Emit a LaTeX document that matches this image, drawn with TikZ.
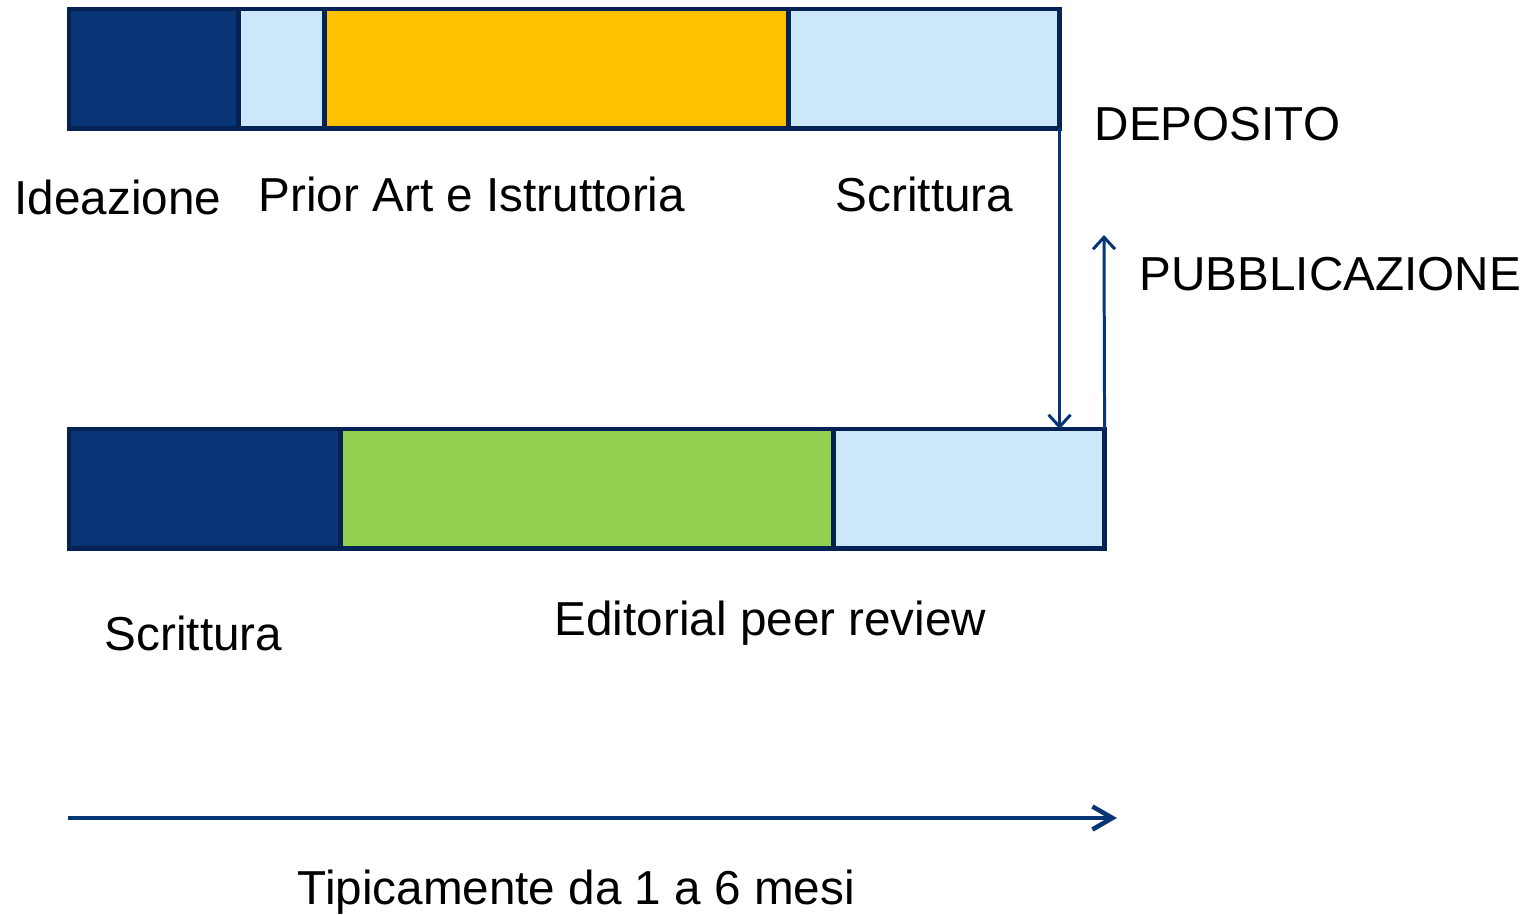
\documentclass[tikz,border=0pt]{standalone}
\usepackage{fontspec}
\setmainfont{Liberation Sans}
\usetikzlibrary{arrows.meta}

\definecolor{navy}{RGB}{8,53,117}
\definecolor{navyline}{RGB}{4,34,84}
\definecolor{skyblue}{RGB}{204,231,248}
\definecolor{gold}{RGB}{255,192,0}
\definecolor{leaf}{RGB}{146,208,80}

\begin{document}
\begin{tikzpicture}[x=0.01cm, y=-0.01cm,
  seg/.style={draw=navyline, line width=1.4pt, anchor=north west, outer sep=0pt, inner sep=0pt, minimum height=1.19cm},
  lbl/.style={anchor=base west, inner sep=0pt, font=\fontsize{13.55}{16}\selectfont},
  thin/.style={draw=navy, line width=0.85pt, -{Straight Barb[length=0.12cm, width=0.22cm]}},
  timeline/.style={draw=navy, line width=1.3pt, -{Straight Barb[length=0.2cm, width=0.23cm]}}]

\useasboundingbox (0,0) rectangle (1535,915);

% brevetto
\node[seg, fill=navy, minimum width=1.69cm] (t1) at (69,9) {};
\node[seg, fill=skyblue, minimum width=0.86cm] (t2) at (t1.north east) {};
\node[seg, fill=gold, minimum width=4.64cm] (t3) at (t2.north east) {};
\node[seg, fill=skyblue, minimum width=2.71cm] (t4) at (t3.north east) {};

% articolo
\node[seg, fill=navy, minimum width=2.71cm] (b1) at (69,429) {};
\node[seg, fill=leaf, minimum width=4.93cm] (b2) at (b1.north east) {};
\node[seg, fill=skyblue, minimum width=2.71cm] (b3) at (b2.north east) {};

\node[lbl] (ideaz) at (14,215) {Ideazione};
\node[lbl] (prior) at (258,212) {Prior Art e Istruttoria};
\node[lbl] (scrA) at (835,212) {Scrittura};
\node[lbl] (depos) at (1094,140) {DEPOSITO};
\node[lbl] (pubbl) at (1139,290) {PUBBLICAZIONE};
\node[lbl] (scrB) at (104,650) {Scrittura};
\node[lbl] (editr) at (554,635) {Editorial peer review};
\node[lbl] (tipic) at (297,904) {Tipicamente da 1 a 6 mesi};

\coordinate (pubtip) at (1104,235);
\draw[thin] (t4.south east) -- (t4.south east |- b3.north);
\draw[thin] (b3.north east) -- (pubtip);

\coordinate (tstart) at (68,818);
\coordinate (tend) at (1117,818);
\draw[timeline] (tstart) -- (tend);

\end{tikzpicture}
\end{document}
